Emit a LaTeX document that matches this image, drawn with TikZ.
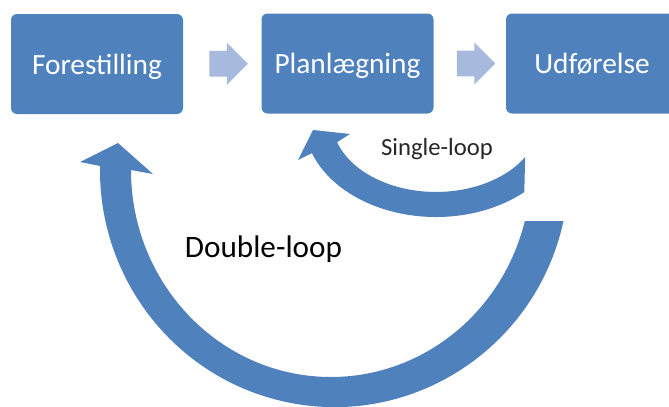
\documentclass[tikz,border=0pt]{standalone}
\usepackage{fontspec}
\setmainfont{Carlito}
\usetikzlibrary{shapes.arrows,calc}
\definecolor{boxblue}{RGB}{79,129,189}
\definecolor{lightarrow}{RGB}{167,186,222}
\definecolor{labelgray}{RGB}{38,38,38}

\begin{document}
\begin{tikzpicture}[x=0.75pt,y=0.75pt,yscale=-1,xscale=1,
    stagebox/.style={fill=boxblue, rounded corners=4.5pt, minimum width=129pt, minimum height=75pt, inner sep=0pt, text height=18pt, text depth=2.5pt, text=white, font=\fontsize{22}{26}\selectfont},
    gaparrow/.style={single arrow, fill=lightarrow, single arrow head extend=6.2pt, minimum height=29pt, inner xsep=2pt, inner ysep=9.4pt},
    loopband/.style={fill=boxblue}]
    \useasboundingbox (0,0) rectangle (669,407);

    % stages
    \node[stagebox] (forest) at (97,64) {Forestilling};
    \node[stagebox] (plan) at (347.5,63.5) {Planlægning};
    \node[stagebox] (udfoer) at (592,63.5) {Udførelse};
    \node[gaparrow] (arrA) at ($(forest.east)!0.5!(plan.west)$) {};
    \node[gaparrow] (arrB) at ($(plan.east)!0.5!(udfoer.west)$) {};

    % double loop
    \fill[loopband] (563.5,221) arc[start angle=12.4, end angle=181, x radius=234.5, y radius=237] -- (80,162) -- (118,143) -- (153,174) -- (131,170) arc[start angle=180, end angle=14.3, x radius=200, y radius=207] -- cycle;
    % single loop
    \fill[loopband] (524.3,192.1) arc[start angle=48, end angle=160, x radius=132, y radius=97] -- (298,160) -- (313,130) -- (350,134) -- (337.1,142.2) arc[start angle=162, end angle=31, x radius=104, y radius=72] -- cycle;

    \node[font=\fontsize{18.5}{22}\selectfont, text=labelgray] (single) at (437,149) {Single-loop};
    \node[font=\fontsize{23.4}{28}\selectfont] (double) at (263.5,249.5) {Double-loop};
\end{tikzpicture}
\end{document}
